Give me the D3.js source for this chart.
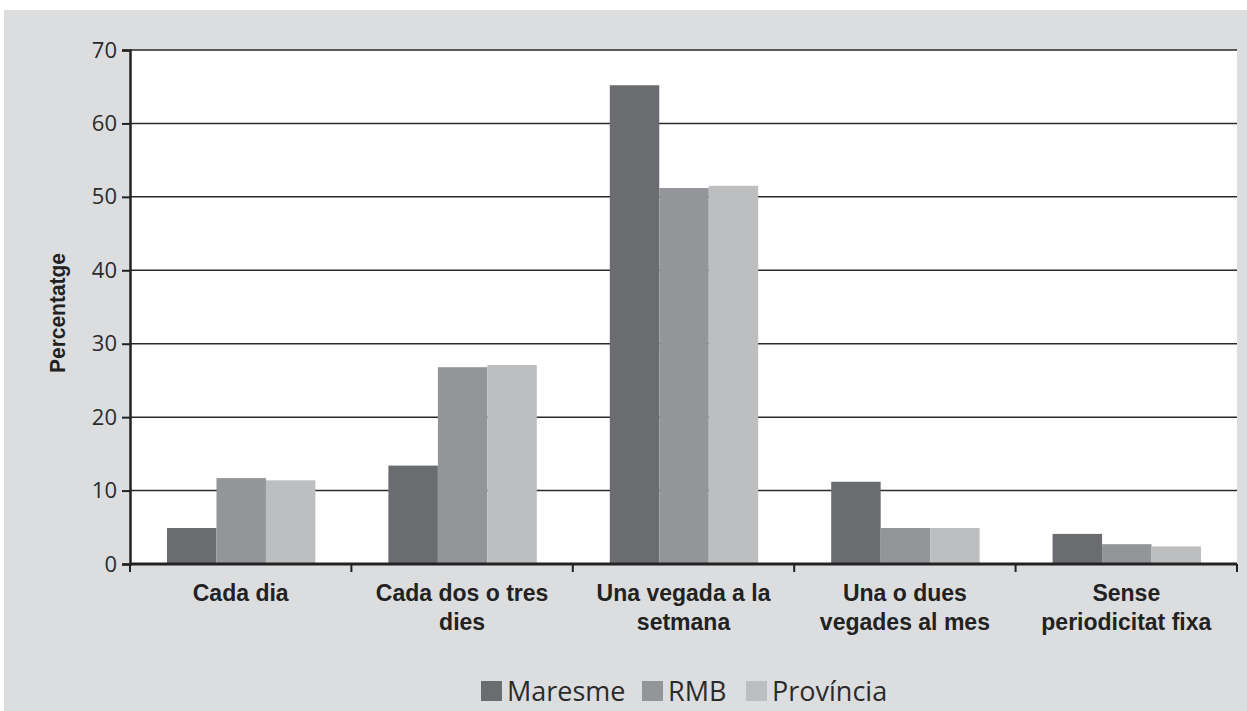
<!DOCTYPE html>
<html>
<head>
<meta charset="utf-8">
<script src="https://cdn.jsdelivr.net/npm/d3@7"></script>
<style>
  body { margin: 0; background: #fff; }
  svg { display: block; font-family: "Liberation Sans", Arial, sans-serif; }
</style>
</head>
<body>
<svg id="chart" width="1247" height="711"></svg>
<script>
// categories (each label split in lines as in the original)
var categories = [
  ["Cada dia"],
  ["Cada dos o tres", "dies"],
  ["Una vegada a la", "setmana"],
  ["Una o dues", "vegades al mes"],
  ["Sense", "periodicitat fixa"]
];
var seriesNames = ["Maresme", "RMB", "Província"];
var maresme   = [4.9, 13.4, 65.2, 11.2, 4.1];
var rmb       = [11.7, 26.8, 51.2, 4.9, 2.7];
var provincia = [11.4, 27.1, 51.5, 4.9, 2.4];
var yTicks = [0, 10, 20, 30, 40, 50, 60, 70];
var colors = ["#6b6c70", "#949598", "#bdbec0"];

var svg = d3.select("#chart");
var margin = {left: 130, top: 50, right: 10, bottom: 147};
var width = 1237 - margin.left,
    height = 564 - margin.top;

// grey frame
svg.append("rect")
  .attr("x", 4).attr("y", 10)
  .attr("width", 1243).attr("height", 701)
  .attr("fill", "#dcdddf");

var g = svg.append("g")
  .attr("transform", "translate(" + margin.left + "," + margin.top + ")");

g.append("rect")
  .attr("width", width).attr("height", height)
  .attr("fill", "#fff");

var keys = categories.map(function(c) { return c.join(" "); });

var x0 = d3.scaleBand().domain(keys).range([0, width]).paddingInner(0).paddingOuter(0);
var x1 = d3.scaleBand().domain(seriesNames).range([37, x0.bandwidth() - 36]).padding(0);
var y = d3.scaleLinear().domain([0, 70]).range([height, 0]);

// gridlines
g.selectAll(".grid")
  .data(yTicks.slice(1))
  .enter().append("line")
  .attr("x1", 0).attr("x2", width)
  .attr("y1", function(d) { return y(d); })
  .attr("y2", function(d) { return y(d); })
  .attr("stroke", "#2a2a2a")
  .attr("stroke-width", 1.5);

// bars
var rows = keys.map(function(k, i) {
  return {key: k, values: [maresme[i], rmb[i], provincia[i]]};
});

var groups = g.selectAll(".grp")
  .data(rows)
  .enter().append("g")
  .attr("transform", function(d) { return "translate(" + x0(d.key) + ",0)"; });

groups.selectAll("rect")
  .data(function(d) { return d.values.map(function(v, j) { return {s: seriesNames[j], v: v, j: j}; }); })
  .enter().append("rect")
  .attr("x", function(d) { return x1(d.s); })
  .attr("width", x1.bandwidth())
  .attr("y", function(d) { return y(d.v); })
  .attr("height", function(d) { return height - y(d.v); })
  .attr("fill", function(d) { return colors[d.j]; });

// y axis
var yAxis = d3.axisLeft(y).tickValues(yTicks).tickSize(8).tickPadding(5);
var ya = g.append("g").call(yAxis);
ya.select(".domain").attr("stroke", "#222").attr("stroke-width", 2.5);
ya.selectAll(".tick line").attr("stroke", "#222").attr("stroke-width", 2);
ya.selectAll("text")
  .attr("font-size", 22)
  .attr("fill", "#2b2b2b")
  .attr("font-family", "'Open Sans', 'Liberation Sans', sans-serif");

// x axis (ticks on category boundaries)
var xa = g.append("g").attr("transform", "translate(0," + height + ")");
xa.append("line")
  .attr("x1", 0).attr("x2", width)
  .attr("stroke", "#222").attr("stroke-width", 3);
xa.selectAll(".xtick")
  .data(keys.concat(["end"]))
  .enter().append("line")
  .attr("x1", function(d, i) { return i * x0.bandwidth(); })
  .attr("x2", function(d, i) { return i * x0.bandwidth(); })
  .attr("y1", 0).attr("y2", 8)
  .attr("stroke", "#222").attr("stroke-width", 2);

var labels = xa.selectAll(".xl")
  .data(categories)
  .enter().append("text")
  .attr("text-anchor", "middle")
  .attr("font-size", 23)
  .attr("font-weight", "bold")
  .attr("fill", "#222")
  .attr("transform", function(d, i) { return "translate(" + (x0(keys[i]) + x0.bandwidth() / 2) + ",37)"; });
labels.selectAll("tspan")
  .data(function(d) { return d; })
  .enter().append("tspan")
  .attr("x", 0)
  .attr("dy", function(d, i) { return i === 0 ? 0 : 29; })
  .text(function(d) { return d; });

// y title
svg.append("text")
  .attr("transform", "translate(65,313) rotate(-90)")
  .attr("text-anchor", "middle")
  .attr("font-size", 22)
  .attr("font-weight", "bold")
  .attr("fill", "#222")
  .attr("textLength", 120)
  .attr("lengthAdjust", "spacingAndGlyphs")
  .text("Percentatge");

// legend
var legendX = [481, 642, 746];
var legend = svg.selectAll(".lg")
  .data(seriesNames)
  .enter().append("g")
  .attr("transform", function(d, i) { return "translate(" + legendX[i] + ",681)"; });
legend.append("rect")
  .attr("width", 21).attr("height", 20)
  .attr("fill", function(d, i) { return colors[i]; });
legend.append("text")
  .attr("x", 26).attr("y", 20)
  .attr("font-size", 27)
  .attr("fill", "#2b2b2b")
  .attr("font-family", "'Open Sans', 'Liberation Sans', sans-serif")
  .text(function(d) { return d; });
</script>
</body>
</html>
